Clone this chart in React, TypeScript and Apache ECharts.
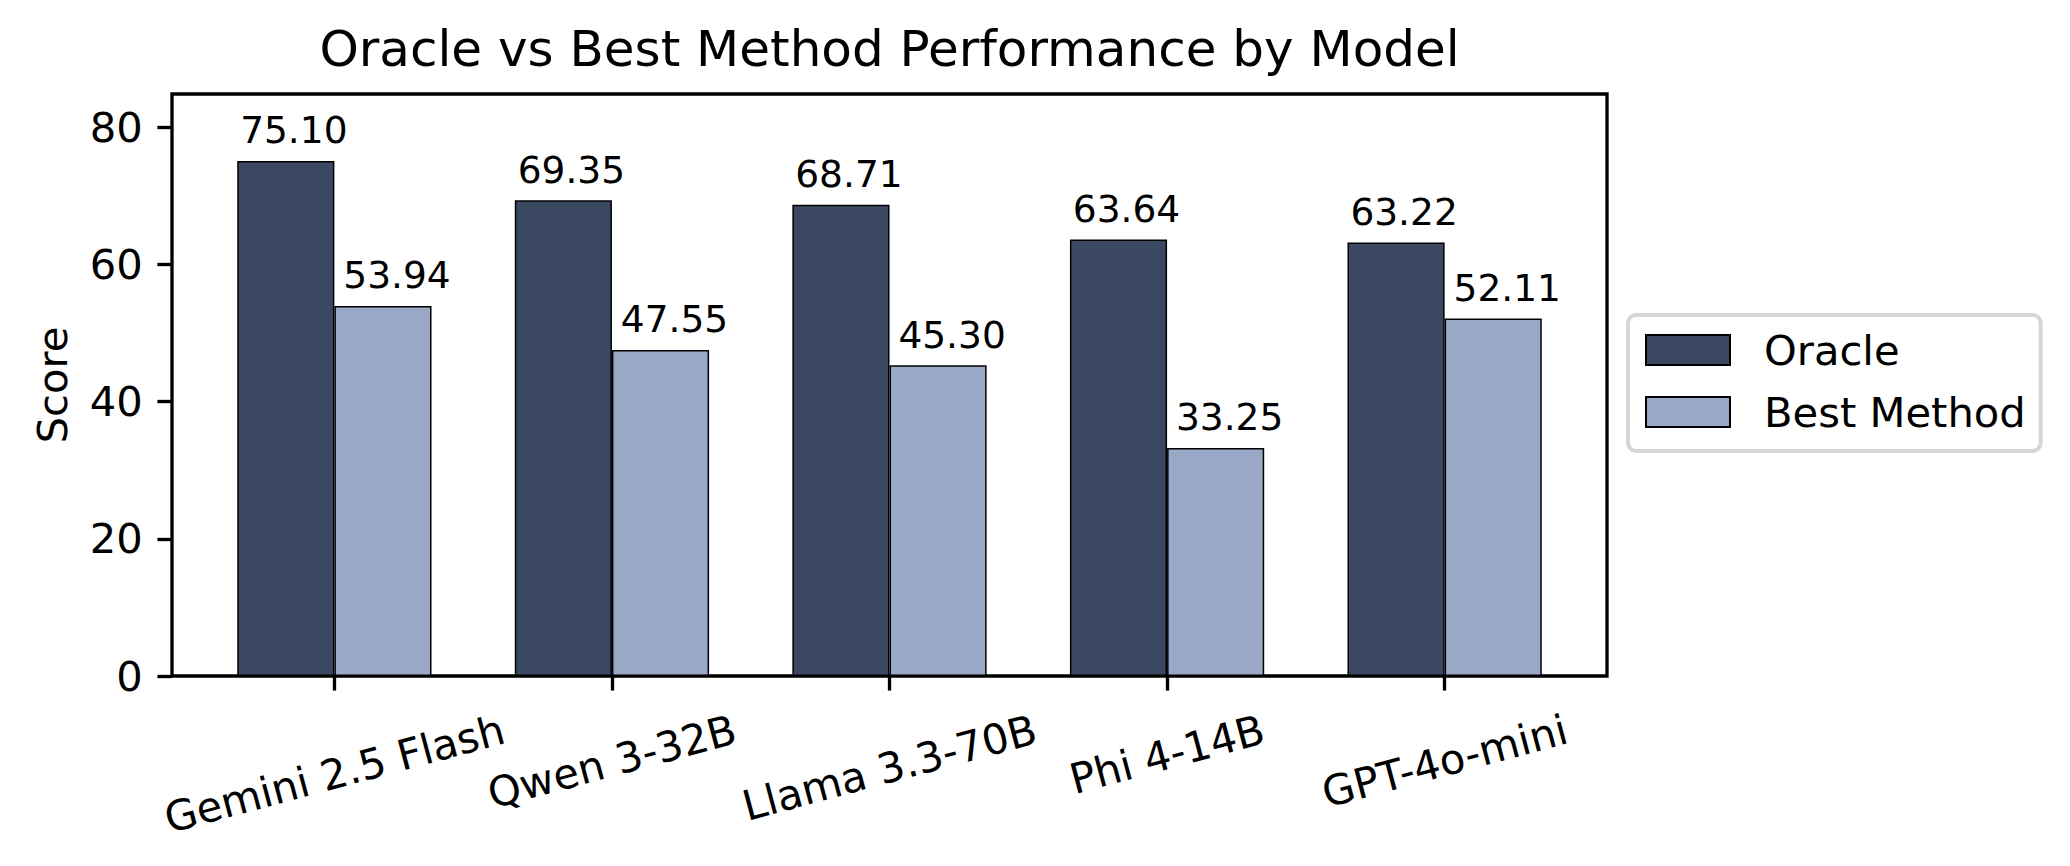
import React, { useEffect, useRef } from 'react';
import * as echarts from 'echarts';

const categories = ['Gemini 2.5 Flash', 'Qwen 3-32B', 'Llama 3.3-70B', 'Phi 4-14B', 'GPT-4o-mini'];
const oracleScores = [75.1, 69.35, 68.71, 63.64, 63.22];
const bestScores = [53.94, 47.55, 45.3, 33.25, 52.11];
const seriesNames = ['Oracle', 'Best Method'];
const yTickValues = [0, 20, 40, 60, 80];
const xTickValues = [0, 1, 2, 3, 4];
const yMax = 84.86;
const xMin = -0.585;
const xMax = 4.585;
const chartTitle = 'Oracle vs Best Method Performance by Model';
const yAxisTitle = 'Score';

const FONT = 'DejaVu Sans';
const PX = 300 / 72;
const FS_TICK = 10 * PX;
const FS_TITLE = 12 * PX;
const FS_VAL = 9 * PX;
const TICK_LEN = 3.5 * PX;
const TICK_PAD = 3.5 * PX;
const SPINE_W = 0.8 * PX;
const ROT = 15;

const GRID = { left: 172, top: 94, width: 1435, height: 582 };
const X_LABEL_MARGIN = 20;

function measure(text: string, size: number): number {
  const c = document.createElement('canvas').getContext('2d');
  if (!c) return text.length * size * 0.6;
  c.font = `${size}px "${FONT}"`;
  return c.measureText(text).width;
}

function buildRich() {
  const rich: Record<string, any> = {};
  const s = Math.sin((ROT * Math.PI) / 180);
  const co = Math.cos((ROT * Math.PI) / 180);
  const hM = 1.165 * FS_TICK;
  categories.forEach((cat, i) => {
    const w = measure(cat, FS_TICK);
    const bboxH = w * s + hM * co;
    const centerBelow = TICK_LEN + TICK_PAD + bboxH / 2;
    const D = Math.max(0, centerBelow - X_LABEL_MARGIN);
    rich['s' + i] = {
      fontSize: FS_TICK,
      fontFamily: FONT,
      color: '#000',
      padding: [2 * D * co, 2 * D * s, 0, 0],
    };
  });
  return rich;
}

export default function App() {
  const ref = useRef<HTMLDivElement>(null);
  useEffect(() => {
    if (!ref.current) return;
    const chart = echarts.init(ref.current, undefined, { renderer: 'svg' });
    const barStyle = (color: string) => ({ color, borderColor: '#000', borderWidth: 1.5 });
    const valueLabel = (dx: number) => ({
      show: true,
      position: 'top',
      distance: 12,
      offset: [dx, 0],
      fontSize: FS_VAL,
      lineHeight: FS_VAL,
      fontFamily: FONT,
      color: '#000',
      formatter: (p: any) => Number(p.value[1]).toFixed(2),
    });
    chart.setOption({
      animation: false,
      backgroundColor: '#ffffff',
      title: {
        text: chartTitle,
        left: GRID.left + GRID.width / 2,
        top: 24,
        textAlign: 'center',
        padding: 0,
        textStyle: { fontSize: FS_TITLE, lineHeight: FS_TITLE, fontWeight: 'normal', fontFamily: FONT, color: '#000' },
      },
      legend: {
        data: seriesNames,
        orient: 'vertical',
        left: 1628,
        top: 315,
        padding: [14, 15, 18, 17],
        itemWidth: 84,
        itemHeight: 30,
        itemGap: 20,
        icon: 'rect',
        backgroundColor: '#ffffff',
        borderColor: '#d6d6d6',
        borderWidth: 4,
        borderRadius: 8,
        textStyle: { fontSize: FS_TICK, lineHeight: 42, fontFamily: FONT, color: '#000', padding: [0, 0, 0, 29] },
      },
      grid: {
        ...GRID,
        show: true,
        borderColor: '#000',
        borderWidth: SPINE_W,
        backgroundColor: 'transparent',
        containLabel: false,
      },
      xAxis: {
        type: 'value',
        min: xMin,
        max: xMax,
        splitLine: { show: false },
        axisLine: { show: false, onZero: false },
        axisTick: { show: true, customValues: xTickValues, length: TICK_LEN, lineStyle: { color: '#000', width: SPINE_W } },
        axisLabel: {
          show: true,
          customValues: xTickValues,
          rotate: ROT,
          align: 'center',
          verticalAlign: 'middle',
          margin: X_LABEL_MARGIN,
          fontSize: FS_TICK,
          fontFamily: FONT,
          color: '#000',
          formatter: (v: number) => {
            const i = Math.round(v);
            return `{s${i}|${categories[i]}}`;
          },
          rich: buildRich(),
        },
      },
      yAxis: {
        type: 'value',
        min: 0,
        max: yMax,
        name: yAxisTitle,
        nameLocation: 'middle',
        nameGap: 99,
        nameRotate: 90,
        nameTextStyle: { fontSize: FS_TICK, fontFamily: FONT, color: '#000' },
        splitLine: { show: false },
        axisLine: { show: false, onZero: false },
        axisTick: { show: true, customValues: yTickValues, length: TICK_LEN, lineStyle: { color: '#000', width: SPINE_W } },
        axisLabel: {
          show: true,
          customValues: yTickValues,
          margin: TICK_LEN + TICK_PAD,
          fontSize: FS_TICK,
          fontFamily: FONT,
          color: '#000',
        },
      },
      series: [
        {
          name: seriesNames[0],
          type: 'bar',
          data: oracleScores.map((v, i) => [i, v]),
          barWidth: '35%',
          barGap: '0%',
          itemStyle: barStyle('#3a4961'),
          label: valueLabel(8),
        },
        {
          name: seriesNames[1],
          type: 'bar',
          data: bestScores.map((v, i) => [i, v]),
          barWidth: '35%',
          barGap: '0%',
          itemStyle: barStyle('#99a8c6'),
          label: valueLabel(14),
        },
      ],
    });
    return () => chart.dispose();
  }, []);
  return (
    <div
      ref={ref}
      style={{ position: 'fixed', left: 0, top: 0, width: 2070, height: 866, background: '#fff' }}
    />
  );
}
